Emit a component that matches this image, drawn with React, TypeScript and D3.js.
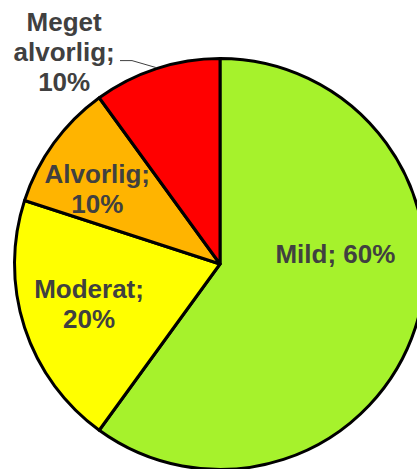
import { useEffect, useRef } from 'react';
import * as d3 from 'd3';

const categories = ['Mild', 'Moderat', 'Alvorlig', 'Meget alvorlig'];
const values = [60, 20, 10, 10];
const colors = ['#a6f22c', '#ffff00', '#ffb400', '#ff0000'];
// how each label breaks into lines
const labelLines = [
  ['Mild; 60%'],
  ['Moderat;', '20%'],
  ['Alvorlig;', '10%'],
  ['Meget', 'alvorlig;', '10%'],
];

const App = () => {
  const svgRef = useRef<SVGSVGElement>(null);

  useEffect(() => {
    document.body.style.margin = '0';

    const width = 417;
    const height = 469;
    const cx = 220;
    const cy = 264;
    const radius = 205.5;

    const svg = d3.select(svgRef.current)
      .attr('width', width)
      .attr('height', height)
      .style('display', 'block');

    svg.selectAll('*').remove();

    const data = categories.map((c, i) => ({ name: c, value: values[i], color: colors[i], lines: labelLines[i] }));

    const pie = d3.pie<any>()
      .sort(null)
      .value(d => d.value);

    const arc = d3.arc<any>()
      .innerRadius(0)
      .outerRadius(radius);

    const g = svg.append('g')
      .attr('transform', `translate(${cx},${cy})`);

    const arcs = pie(data);

    g.selectAll('path')
      .data(arcs)
      .enter()
      .append('path')
      .attr('d', arc)
      .attr('fill', d => d.data.color)
      .attr('stroke', '#000')
      .attr('stroke-width', 3)
      .attr('stroke-linejoin', 'round');

    // label placement: distance along mid angle (fraction of radius) + nudge
    const placement = [
      { r: 0.58, dx: 2, dy: -47 },
      { r: 0.66, dx: -2, dy: -2 },
      { r: 0.72, dx: -3, dy: 12 },
      { r: 1.1, dx: -86, dy: 3 },
    ];

    const lineH = 30;

    arcs.forEach((a, i) => {
      const mid = (a.startAngle + a.endAngle) / 2;
      const p = placement[i];
      const x = Math.sin(mid) * radius * p.r + p.dx;
      const y = -Math.cos(mid) * radius * p.r + p.dy;
      const lines = a.data.lines;
      const text = g.append('text')
        .attr('text-anchor', 'middle')
        .attr('font-family', '"Liberation Sans", Arial, sans-serif')
        .attr('font-weight', 'bold')
        .attr('font-size', 26)
        .attr('fill', '#404040');
      lines.forEach((ln, j) => {
        text.append('tspan')
          .attr('x', x)
          .attr('y', y + (j - (lines.length - 1) / 2) * lineH + 9)
          .text(ln);
      });
    });

    // leader line for the outside label
    const red = arcs[3];
    const mid = (red.startAngle + red.endAngle) / 2;
    const ex = Math.sin(mid) * (radius + 1);
    const ey = -Math.cos(mid) * (radius + 1);
    g.append('polyline')
      .attr('points', `${-100},${ey - 7} ${-88},${ey - 7} ${ex},${ey}`)
      .attr('fill', 'none')
      .attr('stroke', '#404040')
      .attr('stroke-width', 1);
  }, []);

  return (
    <div>
      <svg ref={svgRef}></svg>
    </div>
  );
};

export default App;
